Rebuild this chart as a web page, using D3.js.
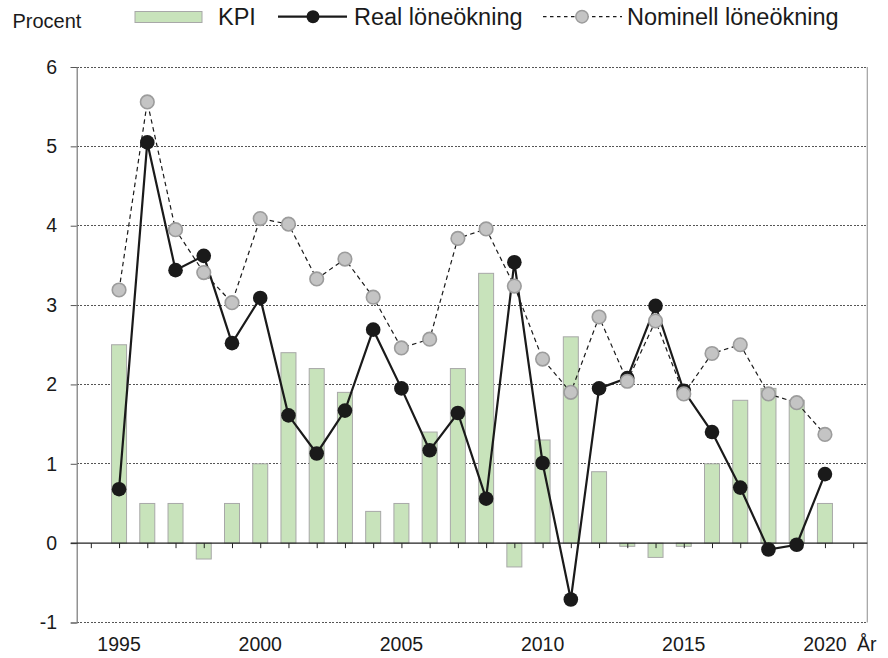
<!DOCTYPE html>
<html>
<head>
<meta charset="utf-8">
<script src="https://cdn.jsdelivr.net/npm/d3@7"></script>
<style>
  html, body { margin: 0; padding: 0; background: #fff; }
  svg { display: block; font-family: "Liberation Sans", Arial, sans-serif; }
</style>
</head>
<body>
<svg id="chart" width="888" height="658"></svg>
<script>
const years = [1995,1996,1997,1998,1999,2000,2001,2002,2003,2004,2005,2006,2007,2008,2009,2010,2011,2012,2013,2014,2015,2016,2017,2018,2019,2020];
const kpi = [2.5,0.5,0.5,-0.2,0.5,1.0,2.4,2.2,1.9,0.4,0.5,1.4,2.2,3.4,-0.3,1.3,2.6,0.9,-0.04,-0.18,-0.04,1.0,1.8,1.95,1.8,0.5];
const real = [0.68,5.05,3.44,3.62,2.52,3.09,1.61,1.13,1.67,2.69,1.95,1.17,1.64,0.56,3.54,1.01,-0.71,1.95,2.08,2.99,1.92,1.40,0.70,-0.08,-0.02,0.87];
const nominal = [3.19,5.56,3.95,3.41,3.03,4.09,4.02,3.33,3.58,3.10,2.46,2.57,3.84,3.96,3.24,2.32,1.90,2.85,2.04,2.80,1.88,2.39,2.50,1.88,1.77,1.37];
const yTicks = [-1,0,1,2,3,4,5,6];
const xTickYears = d3.range(1994, 2022);
const xLabelYears = [1995,2000,2005,2010,2015,2020];
const legendLabels = ["KPI", "Real löneökning", "Nominell löneökning"];
const yAxisTitle = "Procent";
const xAxisTitle = "År";

(function () {
const svg = d3.select("#chart");
const pL = 76.7, pR = 867.3, pT = 67, pB = 622.5;
const x = d3.scaleLinear().domain([1993.5, 2021.5]).range([pL, pR]);
const y = d3.scaleLinear().domain([-1, 6]).range([pB, pT]);
const barW = 15;
const green = "#c8e3bb", barStroke = "#a8a8a8";
const tickFont = 19.5, legendFont = 23.5;

// gridlines
svg.append("g").selectAll("line").data(yTicks.filter(d => d !== 0)).join("line")
  .attr("x1", pL).attr("x2", pR)
  .attr("y1", d => y(d)).attr("y2", d => y(d))
  .attr("stroke", "#555").attr("stroke-width", 1).attr("stroke-dasharray", "2,1.5")
  .attr("shape-rendering", "crispEdges");

// right border
svg.append("line").attr("x1", pR).attr("x2", pR).attr("y1", pT).attr("y2", pB)
  .attr("stroke", "#a0a0a0").attr("stroke-width", 1.2);

// left axis
const yAxis = d3.axisLeft(y).tickValues(yTicks).tickSize(6).tickPadding(13.5).tickFormat(d => String(d));
const gy = svg.append("g").attr("transform", `translate(${pL},0)`).call(yAxis);
gy.select(".domain").attr("stroke", "#777").attr("stroke-width", 1.2);
gy.selectAll(".tick line").attr("stroke", "#555");
gy.selectAll(".tick text").attr("font-size", tickFont).attr("fill", "#1a1a1a")
  .attr("font-family", "Liberation Sans, Arial, sans-serif");

// bars
svg.append("g").selectAll("rect").data(years.map((yr, i) => ({yr, v: kpi[i]}))).join("rect")
  .attr("x", d => x(d.yr) - barW / 2)
  .attr("width", barW)
  .attr("y", d => y(Math.max(0, d.v)))
  .attr("height", d => Math.abs(y(d.v) - y(0)))
  .attr("fill", green).attr("stroke", barStroke).attr("stroke-width", 1);

// zero axis with ticks
const xAxis = d3.axisBottom(x).tickValues(xTickYears).tickSize(5).tickFormat("");
const gx = svg.append("g").attr("transform", `translate(0,${y(0)})`).call(xAxis);
gx.select(".domain").remove();
gx.selectAll(".tick line").attr("stroke", "#222");
svg.append("line").attr("x1", pL - 6).attr("x2", pR).attr("y1", y(0)).attr("y2", y(0))
  .attr("stroke", "#222").attr("stroke-width", 1.3);

// x labels
svg.append("g").selectAll("text").data(xLabelYears).join("text")
  .attr("x", d => x(d)).attr("y", 651).attr("text-anchor", "middle")
  .attr("font-size", tickFont).attr("fill", "#1a1a1a").text(d => d);
svg.append("text").attr("x", 857).attr("y", 651).attr("font-size", tickFont).attr("fill", "#1a1a1a").text(xAxisTitle);

// real line
const line = d3.line().x(d => x(d.yr)).y(d => y(d.v));
const realData = years.map((yr, i) => ({yr, v: real[i]}));
const nomData = years.map((yr, i) => ({yr, v: nominal[i]}));
svg.append("path").datum(realData).attr("d", line).attr("fill", "none")
  .attr("stroke", "#1a1a1a").attr("stroke-width", 2.2);
svg.append("g").selectAll("circle").data(realData).join("circle")
  .attr("cx", d => x(d.yr)).attr("cy", d => y(d.v)).attr("r", 7.3).attr("fill", "#1a1a1a");

// nominal line
svg.append("path").datum(nomData).attr("d", line).attr("fill", "none")
  .attr("stroke", "#1a1a1a").attr("stroke-width", 1.2).attr("stroke-dasharray", "4.5,3.5");
svg.append("g").selectAll("circle").data(nomData).join("circle")
  .attr("cx", d => x(d.yr)).attr("cy", d => y(d.v)).attr("r", 6.8)
  .attr("fill", "#c4c4c4").attr("stroke", "#9c9c9c").attr("stroke-width", 1.6);

// title / legend
svg.append("text").attr("x", 12.5).attr("y", 28).attr("font-size", 20).attr("fill", "#1a1a1a").text(yAxisTitle);
const lg = svg.append("g");
lg.append("rect").attr("x", 135).attr("y", 11.5).attr("width", 67).attr("height", 11)
  .attr("fill", green).attr("stroke", barStroke);
lg.append("text").attr("x", 218).attr("y", 25).attr("font-size", legendFont).attr("fill", "#1a1a1a").text(legendLabels[0]);
lg.append("line").attr("x1", 278).attr("x2", 347).attr("y1", 16.7).attr("y2", 16.7)
  .attr("stroke", "#1a1a1a").attr("stroke-width", 2.2);
lg.append("circle").attr("cx", 313).attr("cy", 16.7).attr("r", 6.5).attr("fill", "#1a1a1a");
lg.append("text").attr("x", 354).attr("y", 25).attr("font-size", legendFont).attr("fill", "#1a1a1a").text(legendLabels[1]);
lg.append("line").attr("x1", 543).attr("x2", 622).attr("y1", 16.7).attr("y2", 16.7)
  .attr("stroke", "#1a1a1a").attr("stroke-width", 1.2).attr("stroke-dasharray", "3.5,3.5");
lg.append("circle").attr("cx", 582).attr("cy", 16.7).attr("r", 6.2)
  .attr("fill", "#c4c4c4").attr("stroke", "#9c9c9c").attr("stroke-width", 1.5);
lg.append("text").attr("x", 627).attr("y", 25).attr("font-size", legendFont).attr("fill", "#1a1a1a").text(legendLabels[2]);
})();
</script>
</body>
</html>
